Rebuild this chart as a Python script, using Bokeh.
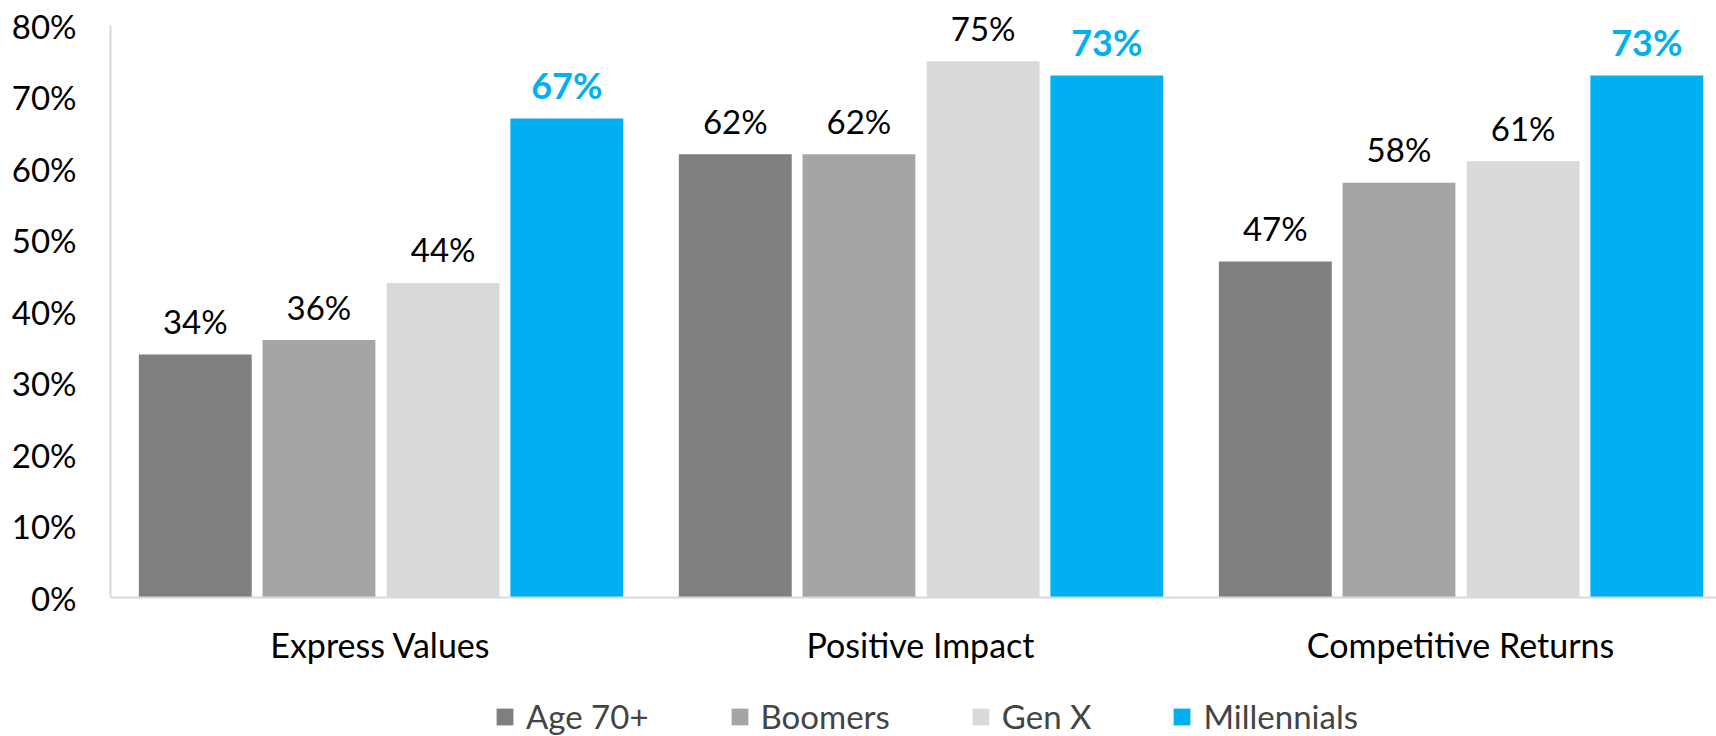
from bokeh.plotting import figure
from bokeh.models import ColumnDataSource, Range1d, Legend, FixedTicker, Span
from bokeh.transform import dodge
from bokeh.core.properties import value
from bokeh.embed import file_html
from bokeh.resources import INLINE

categories = ["Express Values", "Positive Impact", "Competitive Returns"]
series = ["Age 70+", "Boomers", "Gen X", "Millennials"]
age70 = [34, 62, 47]
boomers = [36, 62, 58]
genx = [44, 75, 61]
millennials = [67, 73, 73]
y_ticks = [0, 10, 20, 30, 40, 50, 60, 70, 80]
colors = ["#7F7F7F", "#A5A5A5", "#D9D9D9", "#00B0F0"]

FONT = "Lato"
xc = [i + 0.5 for i in range(len(categories))]
data = dict(x=xc)
for name, vals in zip(series, [age70, boomers, genx, millennials]):
    data[name] = vals
    data[name + "_lab"] = [f"{v}%" for v in vals]
    data[name + "_ly"] = [v + 4.7 for v in vals]
src = ColumnDataSource(data)

p = figure(width=1716, height=736, output_backend="svg", toolbar_location=None,
           x_range=Range1d(0, 2.974), y_range=Range1d(-19.44, 83.5),
           x_axis_location=None,
           min_border_left=110, min_border_right=0, min_border_top=0, min_border_bottom=0)
p.outline_line_color = None
p.xgrid.visible = False
p.ygrid.visible = False

offsets = [-0.343, -0.114, 0.116, 0.345]
bw = 0.209
items = []
for name, col, off in zip(series, colors, offsets):
    r = p.vbar(x=dodge("x", off), top=name, width=bw, source=src, color=col, line_color=None)
    items.append((name, [r]))
    bold = name == "Millennials"
    p.text(x=dodge("x", off), y=name + "_ly", text=name + "_lab", source=src,
           text_align="center", text_baseline="alphabetic",
           text_font=value(FONT), text_font_size="36px" if bold else "33px",
           text_font_style="bold" if bold else "normal",
           text_color="#00B0F0" if bold else "#000000")

# category axis: baseline line and category labels
p.add_layout(Span(location=0, dimension="width", line_color="#D9D9D9", line_width=2))
cat_src = ColumnDataSource(dict(x=xc, y=[-6.6] * len(xc), t=categories))
p.text(x="x", y="y", text="t", source=cat_src, text_align="center", text_baseline="middle",
       text_font=value(FONT), text_font_size="34px", text_color="#000000")

p.yaxis.ticker = FixedTicker(ticks=y_ticks)
p.yaxis.major_label_overrides = {t: f"{t}%" for t in y_ticks}
p.yaxis.bounds = (0, 80)
ax = p.yaxis[0]
ax.axis_line_color = "#D9D9D9"
ax.axis_line_width = 2
ax.major_tick_line_color = None
ax.minor_tick_line_color = None
ax.major_tick_out = 0
ax.major_tick_in = 0
ax.major_label_text_font = FONT
ax.major_label_text_color = "#000000"
ax.major_label_text_font_size = "33px"
ax.major_label_standoff = 34

legend = Legend(items=items, orientation="horizontal", location=(384, 0),
                label_text_font=FONT, label_text_font_size="33px",
                glyph_width=21, glyph_height=21, spacing=80, label_standoff=11,
                border_line_color=None, background_fill_alpha=0,
                margin=0, padding=0)
p.add_layout(legend)

open("out.html", "w").write(file_html(p, INLINE))
